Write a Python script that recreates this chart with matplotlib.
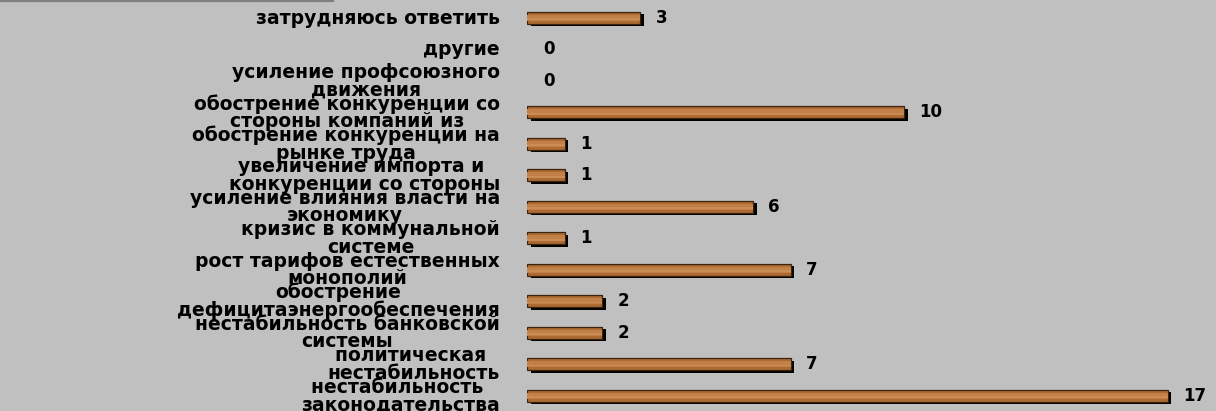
import matplotlib.pyplot as plt
import matplotlib.transforms as mtransforms
import numpy as np

# top-to-bottom order
categories = [
    "затрудняюсь ответить",
    "другие",
    "усиление профсоюзного\nдвижения",
    "обострение конкуренции со\nстороны компаний из",
    "обострение конкуренции на\nрынке труда",
    "увеличение импорта и \nконкуренции со стороны",
    "усиление влияния власти на\nэкономику",
    "кризис в коммунальной\nсистеме",
    "рост тарифов естественных\nмонополий",
    "обострение\nдефицитаэнергообеспечения",
    "нестабильность банковской\nсистемы",
    "политическая \nнестабильность",
    "нестабильность \nзаконодательства",
]
values = [3, 0, 0, 10, 1, 1, 6, 1, 7, 2, 2, 7, 17]

W, H = 1216, 411
fig = plt.figure(figsize=(W / 100, H / 100), dpi=100)
fig.patch.set_facecolor("#c0c0c0")

ax = fig.add_axes([527 / W, 0, 1 - 527 / W, 1])
ax.set_facecolor("#c0c0c0")
ax.set_xlim(0, 689 / 37.7)
ax.set_ylim(12.48, -0.57)
ax.axis("off")

y = np.arange(len(values))
h = 0.38
edge_w = [0.9 if v > 0 else 0 for v in values]

# drop shadow, offset right and down
shadow = mtransforms.offset_copy(ax.transData, fig=fig, x=3.5, y=-2.5, units="dots")
ax.barh(y, values, height=h, color="black", linewidth=0, transform=shadow, zorder=1)

# wood-like body: dark rim plus lighter bands through the middle
ax.barh(y, values, height=h, color="#ad6a32", edgecolor="#3a2410",
        linewidth=edge_w, zorder=2)
ax.barh(y, values, height=h * 0.5, color="#c28049", linewidth=0, zorder=3)
ax.barh(y + h * 0.1, values, height=h * 0.15, color="#cf9258", linewidth=0,
        alpha=0.7, zorder=3)

for yi, v in zip(y, values):
    dx = 11 if v > 0 else 12
    ax.annotate(str(v), (v, yi), xytext=(dx, 0), textcoords="offset points",
                ha="left", va="center", fontsize=12, fontweight="bold",
                family="DejaVu Sans", color="black")

for yi, lab in zip(y, categories):
    fig.text(500 / W, 1 - (18 + 31.5 * yi) / H, lab, ha="right", va="center",
             multialignment="center", fontsize=13.5, fontweight="bold",
             family="DejaVu Sans", linespacing=0.9, color="black")

# thin rule at the top-left edge
fig.add_artist(plt.Line2D([0, 333 / W], [1 - 0.8 / H, 1 - 0.8 / H],
                          color="#808080", linewidth=1.6))

fig.savefig("out.png", dpi=100, facecolor=fig.get_facecolor())
